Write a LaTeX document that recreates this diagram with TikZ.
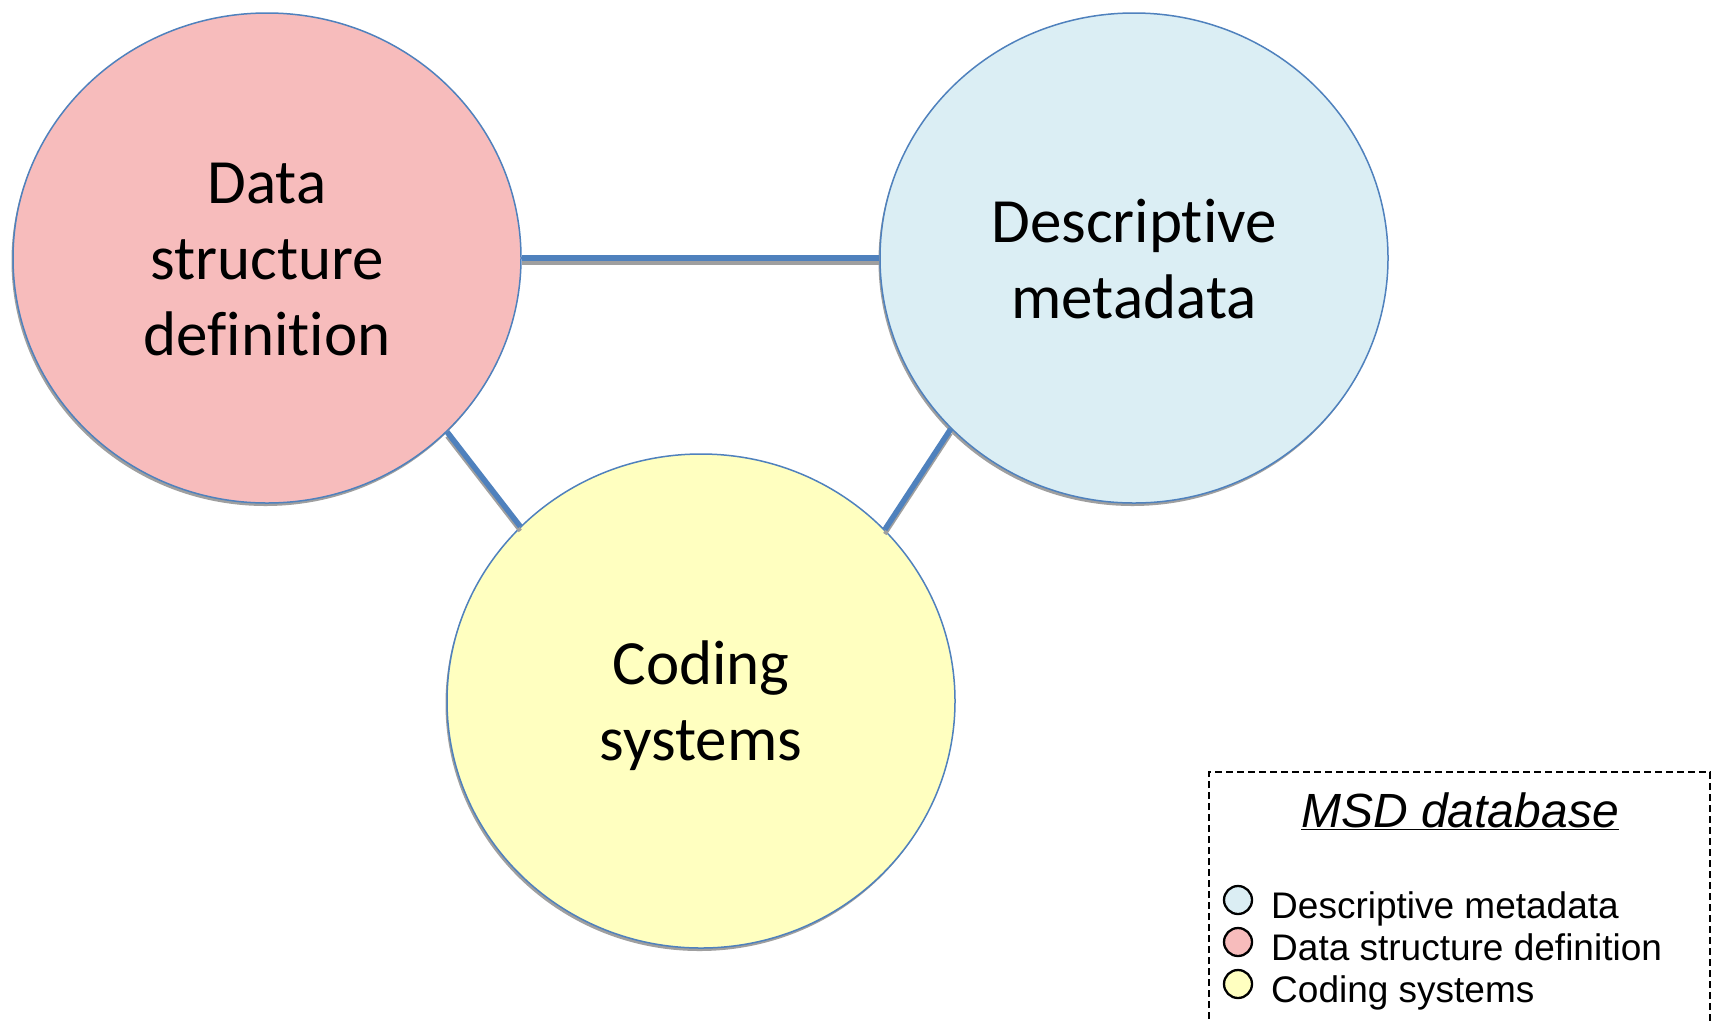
\documentclass[tikz,border=0pt]{standalone}
\usepackage{fontspec}
\setmainfont{Carlito}[RawFeature={-liga;-clig;-dlig;-calt}]
\newfontfamily\legfont{Liberation Sans}
\usetikzlibrary{shapes.geometric,shadows}
\definecolor{obl}{HTML}{4F81BD}
\definecolor{pinkf}{HTML}{F7BCBC}
\definecolor{bluef}{HTML}{DBEEF4}
\definecolor{yelf}{HTML}{FFFFC0}
\newcommand{\nl}{\kern0pt}
\begin{document}
\begin{tikzpicture}[x=1pt,y=-1pt,
  bubble/.style={ellipse, draw=obl, line width=1.5pt, minimum width=508pt,
    minimum height=490pt, inner sep=0pt,
    drop shadow={shadow xshift=-1.5pt, shadow yshift=-3pt, fill=gray!75, opacity=1}},
  bubtext/.style={anchor=base, inner sep=0pt, font=\fontsize{63}{76}\selectfont},
  conn/.style={draw=obl, line width=5.5pt},
  connsh/.style={draw=gray!75, line width=4pt},
  legtitle/.style={anchor=base, inner sep=0pt, font=\legfont\fontsize{48}{56}\selectfont},
  legtext/.style={anchor=base west, inner sep=0pt, font=\legfont\fontsize{37}{44}\selectfont},
  legdot/.style={circle, draw=black, line width=2.3pt, minimum size=28pt, inner sep=0pt},
  legframe/.style={dash pattern=on 7pt off 4pt, line width=1.3pt}
]
\useasboundingbox[fill=white] (0,0) rectangle (1718,1021);
% bubbles
\node[bubble, fill=pinkf] (pink) at (267,258) {};
\node[bubble, fill=bluef] (blue) at (1134,258) {};
\node[bubble, fill=yelf, minimum height=494pt] (yel) at (701,701) {};
% connectors (shadow first, shifted down)
\begin{scope}[transform canvas={yshift=-4.5pt}]
\draw[connsh] (pink) -- (blue);
\draw[connsh] (pink.-44) -- (yel.136.3);
\draw[connsh] (blue.223.9) -- (yel.43.7);
\end{scope}
\draw[conn] (pink) -- (blue);
\draw[conn] (pink.-44) -- (yel.136.3);
\draw[conn] (blue.223.9) -- (yel.43.7);
% texts
\node[bubtext] (p1) at (267,203) {Data};
\node[bubtext] (p2) at (267,279) {structure};
\node[bubtext] (p3) at (267,355) {def\nl ini\nl t\nl ion};
\node[bubtext] (b1) at (1134,242) {Descript\nl ive};
\node[bubtext] (b2) at (1134,318) {metadata};
\node[bubtext] (y1) at (701,684) {Coding};
\node[bubtext] (y2) at (701,760) {systems};
% legend
\coordinate (fa) at (1209,772);
\coordinate (fb) at (1710,772);
\coordinate (fc) at (1209,1030);
\coordinate (fd) at (1710,1030);
\draw[legframe] (fc) -- (fa) -- (fb) -- (fd);
\node[legtitle] (lt) at (1460,827) {\underline{\textit{MSD database}}};
\node[legdot, fill=bluef] (d1) at (1238,900) {};
\node[legdot, fill=pinkf] (d2) at (1238,942) {};
\node[legdot, fill=yelf] (d3) at (1238,984) {};
\node[legtext] (t1) at (1271,918) {Descriptive metadata};
\node[legtext] (t2) at (1271,960) {Data structure definition};
\node[legtext] (t3) at (1271,1002) {Coding systems};
\end{tikzpicture}
\end{document}
